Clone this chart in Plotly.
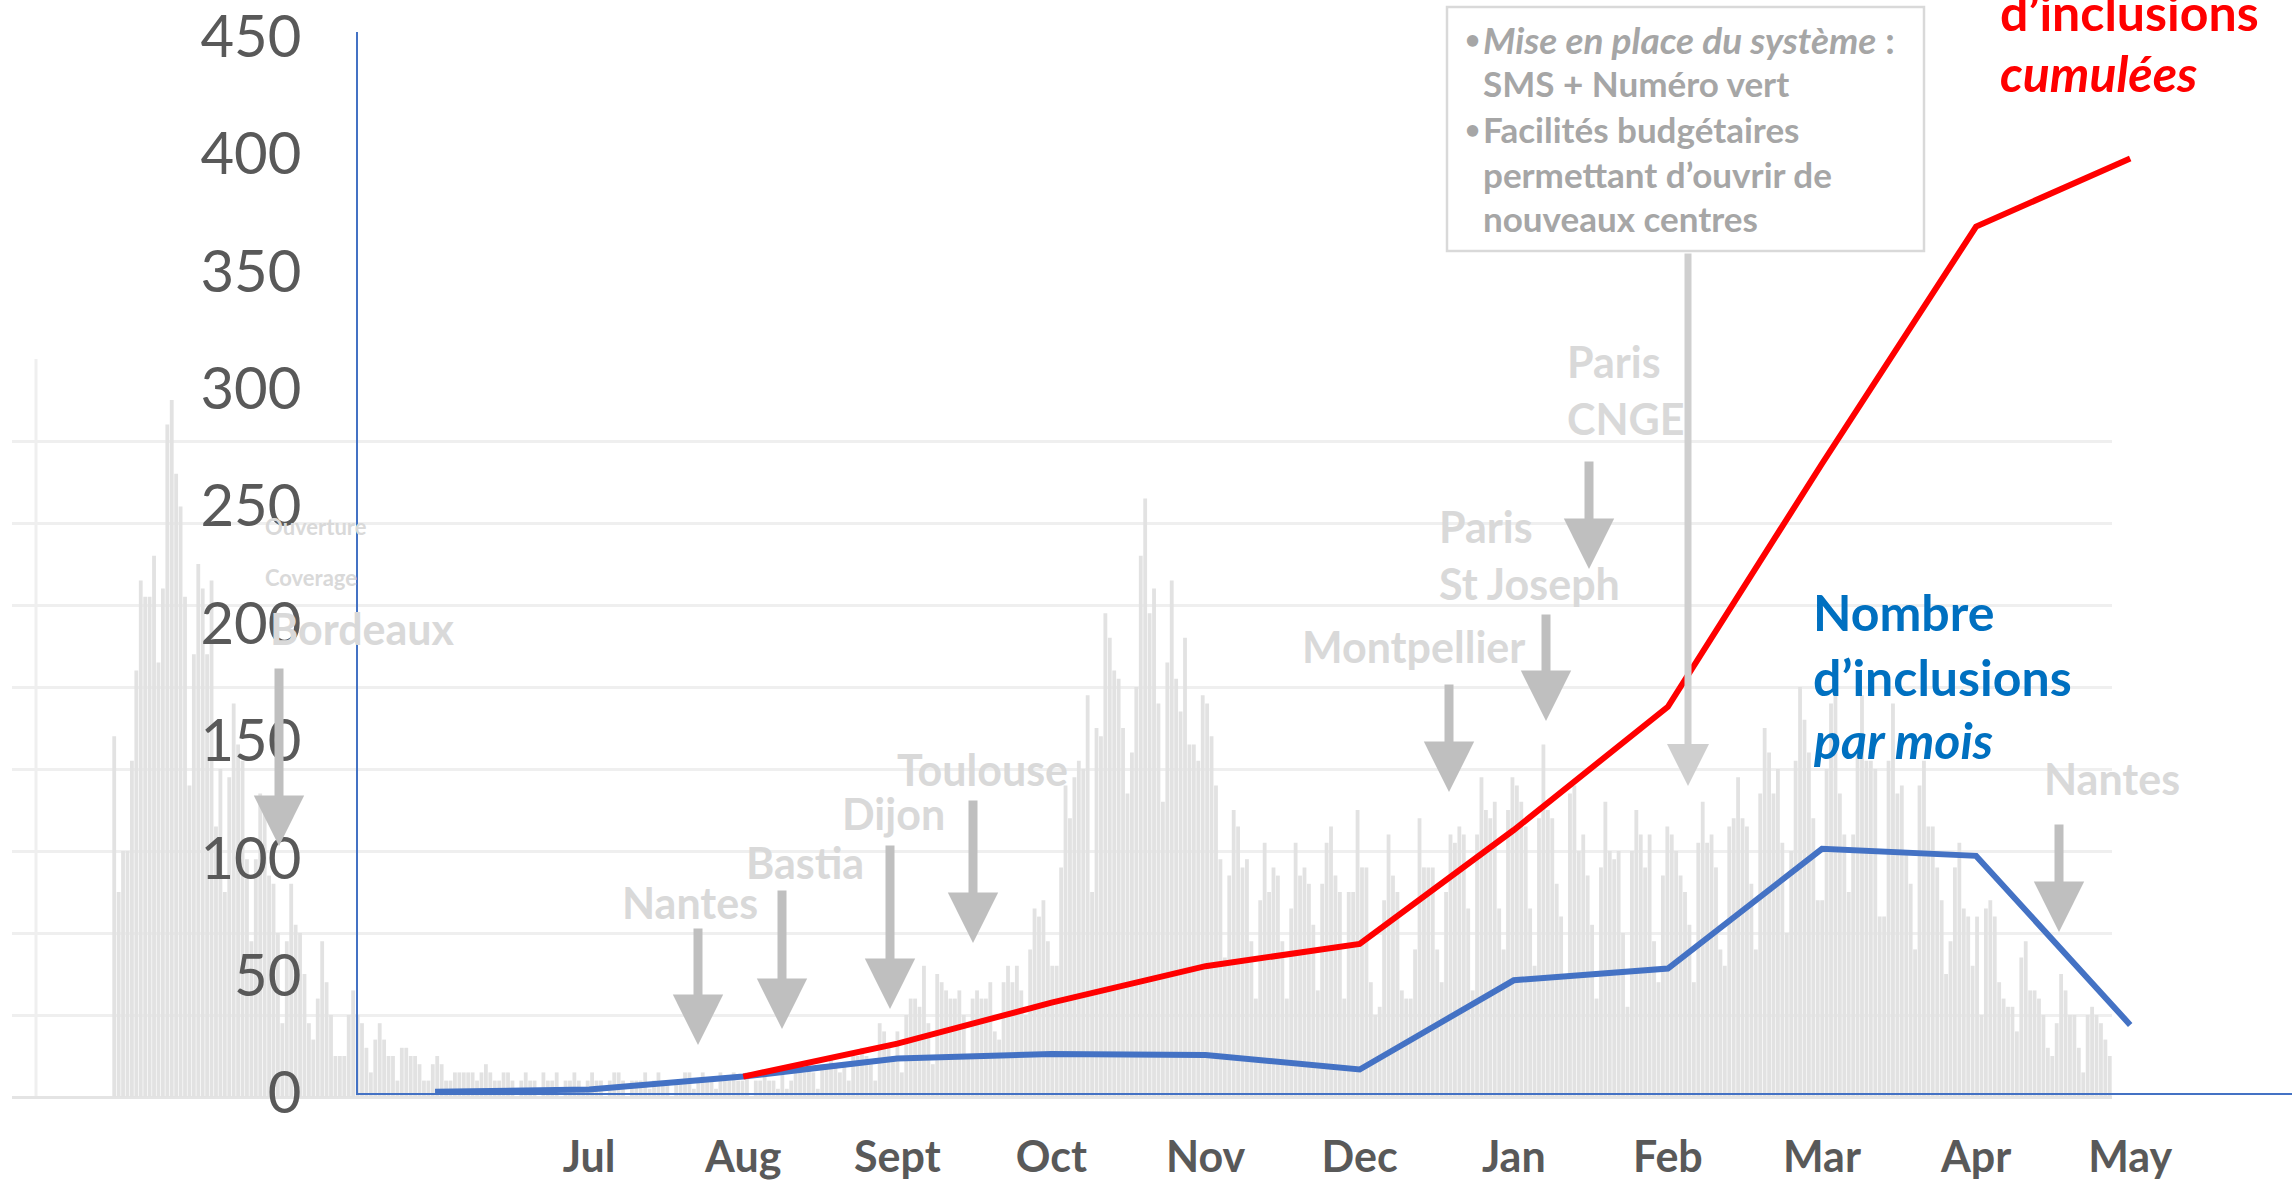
import plotly.graph_objects as go

W, H = 2292, 1182

# ---------------- data ----------------
months = ["Jun", "Jul", "Aug", "Sept", "Oct", "Nov", "Dec", "Jan", "Feb", "Mar", "Apr", "May"]
month_labels = ["", "Jul", "Aug", "Sept", "Oct", "Nov", "Dec", "Jan", "Feb", "Mar", "Apr", "May"]
inclusions_par_mois = [0.5, 1.5, 7, 14.7, 16.6, 16.2, 10, 48, 53, 104, 101, 29]
inclusions_cumulees = [None, None, 7, 21, 38.5, 54, 63.5, 112, 164.5, 268, 369, 398]
y_ticks = [0, 50, 100, 150, 200, 250, 300, 350, 400, 450]

# background daily bars (arbitrary units, grid step = 10)
bg_part1 = [44, 25, 30, 30, 41, 52, 63, 61, 61, 66, 53, 62, 82, 85, 76, 72, 61, 38, 54, 65,
            62, 54, 63, 33, 40, 25, 39, 48, 43, 41, 29, 19, 29, 37, 36, 27, 26, 20, 9, 19,
            26, 21, 20, 15, 9, 7, 12, 19, 14, 10, 5, 5, 5, 10, 13, 10, 9, 6, 3, 7,
            9, 7, 5, 5, 2, 6, 6, 5, 5, 4, 2, 2, 4, 5, 4, 2, 2, 3, 3, 3,
            3, 3, 2, 3, 4, 3, 2]
bg_part2 = [2, 3, 3, 2, 0, 2, 3, 2, 2, 0, 3, 2, 2, 3, 0, 2, 2, 3, 2, 1,
            2, 3, 2, 2, 0, 2, 3, 3, 2, 0, 2, 2, 2, 3, 1, 2, 3, 2, 2, 0,
            2, 2, 3, 3, 1, 2, 3, 2, 2, 1, 3, 2, 2, 3, 2, 2, 3, 0, 2]
bg_part3 = [2, 3, 2, 2, 1, 3, 1, 2, 4, 4, 3, 4, 3, 1, 4, 4, 5, 4, 3, 4,
            2, 5, 5, 6, 5, 4, 2, 9, 8, 6, 5, 8, 3, 10, 12, 12, 11, 16, 9, 4,
            15, 14, 13, 12]
bg_part4 = [12, 13, 10, 5, 12, 13, 12, 12, 14, 8, 7, 14, 16, 14, 16, 13, 10, 18, 23, 22,
            24, 19, 16, 16, 28, 38, 34, 39, 41, 40, 49, 25, 45, 44, 59, 56, 52, 51, 45, 37,
            42, 50, 66, 73, 59, 62, 48, 36, 53, 63, 51, 47, 56, 43, 43, 41, 49, 48, 44, 38,
            29, 17, 27, 35, 33, 28, 29, 19, 12, 24, 31, 25, 28, 27, 19, 12, 23, 31, 27, 28,
            26, 21, 13, 26, 31, 33, 27, 25, 12, 25]
bg_part5 = [25, 35, 28, 28, 14, 10, 11, 24, 32, 27, 25, 13, 12, 12, 18, 34, 28, 28, 28, 18,
            14, 25, 32, 31, 33, 32, 23, 13, 32, 39, 35, 34, 36, 23, 18, 35, 39, 38, 36, 33,
            23, 16, 34, 43, 35, 34, 26, 22, 15, 37, 38, 30, 32, 27, 21, 12, 28, 36, 30, 29,
            30, 20, 11, 30, 35, 32, 28, 32, 19, 14, 27, 33, 32, 30, 27, 25, 21, 14, 31, 36,
            31, 32, 28, 18, 16, 33, 34, 39, 34, 33]
bg_part6 = [26, 18, 37, 45, 42, 37, 40, 31, 20, 30, 41, 50, 46, 42, 34, 24, 24, 40, 48, 52,
            37, 32, 25, 32, 42, 49, 41, 41, 40, 22, 22, 41, 48, 37, 38, 30, 26, 18, 38, 41,
            33, 33, 28, 24, 15, 19, 28, 31, 23, 22, 16, 22, 10, 23, 24, 22, 14, 12, 11, 11,
            8, 17, 19, 13, 13, 12, 10, 6, 5, 9, 15, 13, 10, 10, 6, 3, 10, 11, 10, 9,
            7, 5]
bg_values = bg_part1 + bg_part2 + bg_part3 + bg_part4 + bg_part5 + bg_part6
bg_days = list(range(len(bg_values)))

city_labels = ["Nantes", "Bastia", "Dijon", "Toulouse", "Montpellier", "Nantes", "Bordeaux"]

# ---------------- helpers ----------------
def px(x):
    return x / W

def py(y):
    return 1 - y / H

FONT = "Lato"
GRAY_TXT = "#d9d9d9"
ARROW = "#bfbfbf"

fig = go.Figure()

# background bars
N = len(bg_values)
bar_left, bar_right, grid_left = 112, 2112, 12
unit = (bar_right - bar_left) / N
fig.add_trace(go.Bar(x=bg_days, y=bg_values, marker=dict(color="#e2e2e2", line=dict(width=0)),
                     xaxis="x", yaxis="y", hoverinfo="skip", showlegend=False))

# foreground lines
xi = list(range(len(months)))
fig.add_trace(go.Scatter(x=xi, y=inclusions_par_mois, mode="lines",
                         line=dict(color="#4472c4", width=6), xaxis="x2", yaxis="y2",
                         showlegend=False, name="Nombre d’inclusions par mois"))
fig.add_trace(go.Scatter(x=xi, y=inclusions_cumulees, mode="lines",
                         line=dict(color="#ff0000", width=6), xaxis="x2", yaxis="y2",
                         showlegend=False, name="Nombre d’inclusions cumulées"))

bg_base, bg_top = 1097, 359
per_unit = 117.4 / 50
y_max = 452
fg_base, fg_top = 1093, 1093 - y_max * per_unit

fig.update_layout(
    width=W, height=H, margin=dict(l=0, r=0, t=0, b=0, autoexpand=False),
    paper_bgcolor="white", plot_bgcolor="rgba(0,0,0,0)",
    bargap=0.14,
    xaxis=dict(domain=[px(grid_left), px(bar_right)],
               range=[-0.5 - (bar_left - grid_left) / unit, N - 0.5],
               visible=False, fixedrange=True),
    yaxis=dict(domain=[py(bg_base), py(bg_top)], range=[0, 90], dtick=10,
               showgrid=True, gridcolor="#efefef", gridwidth=3,
               zeroline=True, zerolinecolor="#e4e4e4", zerolinewidth=3,
               showticklabels=False, showline=False, fixedrange=True),
    xaxis2=dict(domain=[px(358), 1], range=[-0.5, 12.05], anchor="y2",
                tickmode="array", tickvals=xi, ticktext=month_labels,
                showline=True, linecolor="#4472c4", linewidth=2,
                showgrid=False, zeroline=False,
                ticks="outside", ticklen=25, tickcolor="rgba(0,0,0,0)",
                ticklabeloverflow="allow",
                tickfont=dict(family=FONT, size=43, color="#595959", weight="bold")),
    yaxis2=dict(domain=[py(fg_base), py(fg_top)], range=[0, y_max], anchor="x2",
                tickmode="array", tickvals=y_ticks, ticktext=[str(v) for v in y_ticks],
                showline=True, linecolor="#4472c4", linewidth=2,
                showgrid=False, zeroline=False,
                ticks="outside", ticklen=43, tickcolor="rgba(0,0,0,0)",
                ticklabeloverflow="allow",
                tickfont=dict(family=FONT, size=58, color="#595959")),
)

shapes = []
# background vertical border line
shapes.append(dict(type="line", xref="paper", yref="paper", x0=px(36), x1=px(36),
                   y0=py(bg_base), y1=py(bg_top), line=dict(color="#efefef", width=3), layer="below"))
# info box
shapes.append(dict(type="rect", xref="paper", yref="paper", x0=px(1447), x1=px(1924),
                   y0=py(251), y1=py(7), line=dict(color="#d9d9d9", width=2.5),
                   fillcolor="white"))
fig.update_layout(shapes=shapes)

ann = []

def label(text, x, y, size=43, color=GRAY_TXT, xanchor="center", weight="bold"):
    ann.append(dict(text=text, x=px(x), y=py(y), xref="paper", yref="paper",
                    xanchor=xanchor, yanchor="middle", showarrow=False,
                    font=dict(family=FONT, size=size, color=color, weight=weight)))

def arrow(x, y_tail, y_tip, width=9, color=ARROW, size=1.12):
    ann.append(dict(text="", x=px(x), y=py(y_tip), xref="paper", yref="paper",
                    ax=0, ay=y_tail - y_tip, axref="pixel", ayref="pixel",
                    showarrow=True, arrowhead=2, arrowsize=size, arrowwidth=width,
                    arrowcolor=color, standoff=0))

# city labels
label(city_labels[0], 690, 902)
label(city_labels[1], 805, 862)
label(city_labels[2], 893, 813)
label(city_labels[3], 982, 769)
label(city_labels[4], 1413, 646)
label("Paris", 1437, 526, xanchor="left")
label("St Joseph", 1437, 583, xanchor="left")
label("Paris", 1565, 361, xanchor="left")
label("CNGE", 1565, 418, xanchor="left")
label(city_labels[5], 2112, 778)
label(city_labels[6], 363, 628)
label("Ouverture", 316, 526, size=22)
label("Coverage", 311, 577, size=22)

# arrows
arrow(279, 667, 846)
arrow(698, 927, 1045)
arrow(782, 889, 1029)
arrow(890, 844, 1009)
arrow(973, 799, 943)
arrow(1449, 683, 792)
arrow(1546, 613, 721)
arrow(1589, 460, 569)
arrow(1688, 252, 786, width=7, color="#cfcfcf", size=1.2)
arrow(2059, 823, 932)

# info box text
BOX = "#a6a6a6"
box_lines = ["<i>Mise en place du système</i> :", "SMS + Numéro vert", "Facilités budgétaires",
             "permettant d’ouvrir de", "nouveaux centres"]
box_sizes = [37, 35, 35, 35, 35]
box_y = [39, 83, 129, 174, 218]
for t, s, yy in zip(box_lines, box_sizes, box_y):
    label(t, 1481, yy, size=s, color=BOX, xanchor="left")
label("•", 1472, box_y[0], size=26, color=BOX)
label("•", 1472, box_y[2], size=26, color=BOX)

# series titles
RED = "#ff0000"
BLUE = "#0070c0"
label("d’inclusions", 1998, 12, size=50, color=RED, xanchor="left")
label("<i>cumulées</i>", 1998, 73, size=50, color=RED, xanchor="left")
label("Nombre", 1811, 612, size=50, color=BLUE, xanchor="left")
label("d’inclusions", 1811, 677, size=50, color=BLUE, xanchor="left")
label("<i>par mois</i>", 1811, 740, size=50, color=BLUE, xanchor="left")

fig.update_layout(annotations=ann)

fig.write_html("out.html", config={"displayModeBar": False},
               post_script="document.body.style.margin='0px';document.body.style.overflow='hidden';")
